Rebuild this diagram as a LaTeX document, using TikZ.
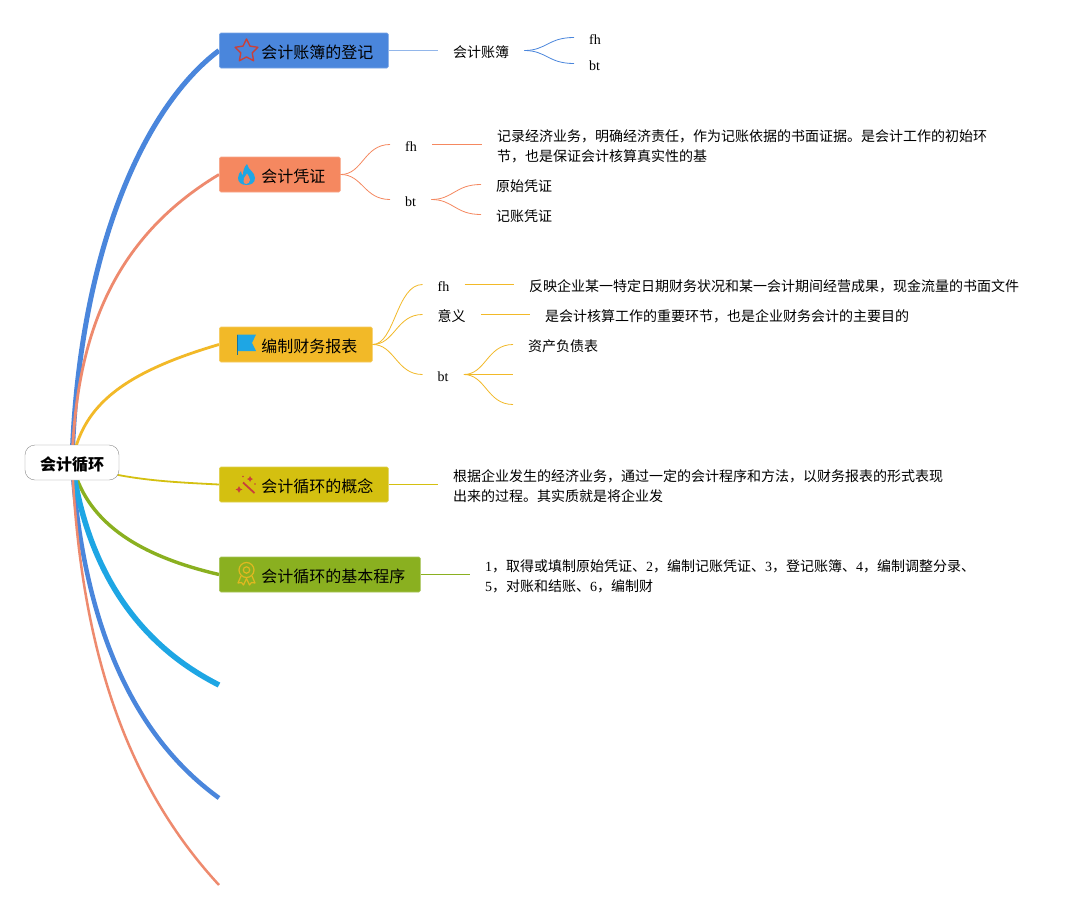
\documentclass[tikz,border=0pt]{standalone}
\usepackage{fontspec}
\setmainfont{Liberation Serif}
\newfontfamily\cjk{Noto Sans CJK SC}
\usetikzlibrary{backgrounds}
\definecolor{cblue}{HTML}{4A86DC}
\definecolor{corange}{HTML}{F58860}
\definecolor{cyellow}{HTML}{F2B928}
\definecolor{colive}{HTML}{D4C010}
\definecolor{cgreen}{HTML}{8AB020}
\definecolor{ccyan}{HTML}{1EA6E4}
\definecolor{csalmon}{HTML}{EE8A6E}
\definecolor{cred}{HTML}{C9403A}
\definecolor{cgold}{HTML}{E0B820}
\newcommand{\tpc}[1]{\hspace*{27pt}\raisebox{0pt}[15pt][0pt]{\cjk #1}}
\tikzset{
  x=1pt,y=-1pt,
  lup/.style={yshift=2.5pt},
  cup/.style={yshift=1.5pt},
  rootnode/.style={draw=black!45,fill=white,rounded corners=10pt,minimum width=94pt,minimum height=35pt,inner sep=0pt,font=\fontsize{16}{20}\selectfont\cjk\bfseries},
  topic/.style={draw=#1!75!white,fill=#1,line width=0.7pt,rounded corners=1.5pt,minimum height=35pt,inner xsep=15pt,inner ysep=0pt,anchor=west,font=\fontsize{16}{20}\selectfont},
  leaf/.style={inner xsep=15pt,inner ysep=0pt,anchor=west,align=left,font=\fontsize{14}{20}\selectfont},
  trunk/.style={draw=#1},
  twig/.style={draw=#1,line width=0.8pt},
}
\newcommand{\sbend}[3]{\draw[twig=#1] (#2) .. controls +(22,0) and +(-26,0) .. (#3);}
\begin{document}
\begin{tikzpicture}
\useasboundingbox (0,0) rectangle (1079,910);

\node[rootnode] (root) at (72,462.5) {\raisebox{0pt}[15pt][0pt]{会计循环}};

\node[topic=cblue] (t1) at (219,50.5) {\tpc{会计账簿的登记}};
\node[topic=corange] (t2) at (219,174.5) {\tpc{会计凭证}};
\node[topic=cyellow] (t3) at (219,344.5) {\tpc{编制财务报表}};
\node[topic=colive] (t4) at (219,484.5) {\tpc{会计循环的概念}};
\node[topic=cgreen] (t5) at (219,574.5) {\tpc{会计循环的基本程序}};
\coordinate (e1) at (219,685);
\coordinate (e2) at (219,798);
\coordinate (e3) at (219,885);

% branch 1
\node[leaf] (a) at (438,52) {\cjk 会计账簿};
\node[leaf] (afh) at (574,40) {fh};
\node[leaf] (abt) at (574,66) {bt};
% branch 2
\node[leaf] (bfh) at (390,147) {fh};
\node[leaf] (bbt) at (390,202) {bt};
\node[leaf] (btx) at (482,146) {\cjk 记录经济业务，明确经济责任，作为记账依据的书面证据。是会计工作的初始环\\\cjk 节，也是保证会计核算真实性的基};
\node[leaf] (bb1) at (481,186) {\cjk 原始凭证};
\node[leaf] (bb2) at (481,216) {\cjk 记账凭证};
% branch 3
\node[leaf] (cfh) at (422.5,287) {fh};
\node[leaf] (cyy) at (422.5,316) {\cjk 意义};
\node[leaf] (cbt) at (422.5,377) {bt};
\node[leaf] (cfx) at (514,286) {\cjk 反映企业某一特定日期财务状况和某一会计期间经营成果，现金流量的书面文件};
\node[leaf] (cyx) at (530,316) {\cjk 是会计核算工作的重要环节，也是企业财务会计的主要目的};
\node[leaf] (cb1) at (513,346) {\cjk 资产负债表};
\coordinate (cb2) at (513,374.5);
\coordinate (cb3) at (513,404.5);
% branch 4, 5
\node[leaf] (dtx) at (438,486) {\cjk 根据企业发生的经济业务，通过一定的会计程序和方法，以财务报表的形式表现\\\cjk 出来的过程。其实质就是将企业发};
\node[leaf] (etx) at (470,576) {1{\cjk ，取得或填制原始凭证、}2{\cjk ，编制记账凭证、}3{\cjk ，登记账簿、}4{\cjk ，编制调整分录、}\\5{\cjk ，对账和结账、}6{\cjk ，编制财}};

\coordinate (bfhR) at ([lup]bfh.east);
\coordinate (cfhR) at ([lup]cfh.east);
\coordinate (cyyR) at ([cup]cyy.east);

\begin{scope}[on background layer]
  \fill[white] (0,0) rectangle (1079,910);
  \draw[trunk=cblue,line width=5pt] (root.center) .. controls (78,260) and (140,110) .. (t1.west);
  \draw[trunk=csalmon,line width=2.8pt] (root.center) .. controls (76,340) and (110,240) .. (t2.west);
  \draw[trunk=cyellow,line width=2.8pt] (root.center) .. controls (82,410) and (115,375) .. (t3.west);
  \draw[trunk=colive,line width=1.8pt] (root.center) .. controls (120,480) and (170,482) .. (t4.west);
  \draw[trunk=cgreen,line width=3.4pt] (root.center) .. controls (85,520) and (135,555) .. (t5.west);
  \draw[trunk=cblue,line width=4.5pt] (root.center) .. controls (82,610) and (125,730) .. (e2);
  \draw[trunk=ccyan,line width=5.5pt] (root.center) .. controls (86,560) and (130,640) .. (e1);
  \draw[trunk=csalmon,line width=2.5pt] (root.center) .. controls (80,640) and (122,780) .. (e3);
\end{scope}

\draw[twig=cblue!60!white,line width=1pt] (t1.east) -- (t1.east -| a.west);
\sbend{cblue}{[cup]a.east}{[lup]afh.west}
\sbend{cblue}{[cup]a.east}{[lup]abt.west}

\sbend{corange}{t2.east}{[lup]bfh.west}
\sbend{corange}{t2.east}{[lup]bbt.west}
\draw[twig=corange] (bfhR) -- (bfhR -| btx.west);
\sbend{corange}{[lup]bbt.east}{[cup]bb1.west}
\sbend{corange}{[lup]bbt.east}{[cup]bb2.west}

\sbend{cyellow}{t3.east}{[lup]cfh.west}
\sbend{cyellow}{t3.east}{[cup]cyy.west}
\sbend{cyellow}{t3.east}{[lup]cbt.west}
\draw[twig=cyellow] (cfhR) -- (cfhR -| cfx.west);
\draw[twig=cyellow] (cyyR) -- (cyyR -| cyx.west);
\sbend{cyellow}{[lup]cbt.east}{[cup]cb1.west}
\draw[twig=cyellow] ([lup]cbt.east) -- (cb2);
\sbend{cyellow}{[lup]cbt.east}{cb3}

\draw[twig=colive] (t4.east) -- (t4.east -| dtx.west);
\draw[twig=cgreen] (t5.east) -- (t5.east -| etx.west);

% icons
\draw[cred,line width=1.4pt,line join=round] (246.5,39) -- (250,46.1) -- (257.9,47.3) -- (252.2,52.9) -- (253.6,60.7) -- (246.5,57) -- (239.4,60.7) -- (240.8,52.9) -- (235.1,47.3) -- (243,46.1) -- cycle;
\fill[ccyan] (247,164) .. controls (248,170) and (255,172) .. (255,178) .. controls (255,183) and (251,185) .. (246.5,185) .. controls (241,185) and (238,182) .. (238,178) .. controls (238,175) and (240,172) .. (241,171) .. controls (241,173) and (242,175) .. (243,175) .. controls (243,171) and (244,167) .. (247,164) -- cycle;
\fill[corange] (246.5,184) .. controls (243,184) and (243,180) .. (244,178) .. controls (245,176) and (246,175) .. (247,173.5) .. controls (248,176) and (250.5,178) .. (250,180) .. controls (250,182) and (248,184) .. (246.5,184) -- cycle;
\fill[ccyan] (237,334.5) -- (256,334.5) -- (252,343) -- (256,351) -- (237,351) -- cycle;
\draw[ccyan!70!black,line width=0.8pt] (237,334.5) -- (237,355);
\draw[cred,line width=1.8pt] (243,482.5) -- (254.5,493);
\fill[cred] (239,486) -- (240.2,488.5) -- (242.5,489.5) -- (240.2,490.5) -- (239,493) -- (237.8,490.5) -- (235.5,489.5) -- (237.8,488.5) -- cycle;
\fill[cred] (250,476) -- (251,478) -- (253,479) -- (251,480) -- (250,482) -- (249,480) -- (247,479) -- (249,478) -- cycle;
\fill[cred] (243,476.5) circle (0.8);
\fill[cred] (255,484) circle (0.8);
\draw[cgold,line width=1.2pt] (246.5,570) circle (7.5);
\draw[cgold,line width=1.2pt] (246.5,570) circle (3.2);
\draw[cgold,line width=1.2pt,line join=round] (241,576) -- (238,583) -- (241.5,582.5) -- (243.5,585) -- (246.5,578.5) -- (249.5,585) -- (251.5,582.5) -- (255,583) -- (252,576);
\end{tikzpicture}
\end{document}
